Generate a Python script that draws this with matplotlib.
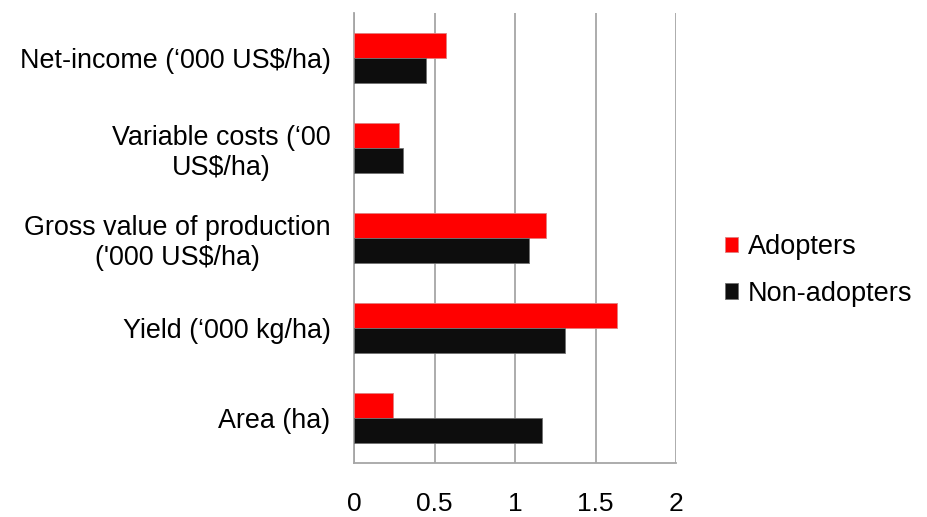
import matplotlib
matplotlib.use("Agg")
import matplotlib.pyplot as plt
import numpy as np

categories = ["Net-income (\u2018000 US$/ha)",
              "Variable costs (\u201800\nUS$/ha)",
              "Gross value of production\n('000 US$/ha)",
              "Yield (\u2018000 kg/ha)",
              "Area (ha)"]
adopters = [0.57, 0.28, 1.19, 1.635, 0.24]
non_adopters = [0.45, 0.305, 1.085, 1.31, 1.165]
series_names = ["Adopters", "Non-adopters"]
xticks = [0, 0.5, 1, 1.5, 2]
xticklabels = ["0", "0.5", "1", "1.5", "2"]

plt.rcParams['font.family'] = ['Liberation Sans', 'DejaVu Sans']

fig = plt.figure(figsize=(9.28, 5.17), dpi=100)
ax = fig.add_axes([0.3815, 0.1044, 0.3470, 0.8705])

n = len(categories)
pos = np.arange(n)[::-1]  # top to bottom
h = 0.283
ax.barh(pos + h / 2, adopters, height=h, color="#FF0000", edgecolor="#E08080",
        linewidth=0.6, label=series_names[0], zorder=3)
ax.barh(pos - h / 2, non_adopters, height=h, color="#0D0D0D", edgecolor="#707070",
        linewidth=0.6, label=series_names[1], zorder=3)

ax.set_xlim(0, 2)
ax.set_ylim(-0.5, n - 0.5)
ax.set_xticks(xticks)
ax.set_xticklabels(xticklabels, fontsize=19)
ax.set_yticks(pos)
ax.set_yticklabels(categories, fontsize=19.4, multialignment='center')
ax.tick_params(axis='x', length=0, pad=21)
ax.tick_params(axis='y', length=0, pad=17)

ax.grid(axis='x', color="#A6A6A6", linewidth=1.3, zorder=0)
for s in ['top', 'right']:
    ax.spines[s].set_visible(False)
for s in ['left', 'bottom']:
    ax.spines[s].set_color("#A6A6A6")
    ax.spines[s].set_linewidth(1.3)

leg = ax.legend(loc='center left', bbox_to_anchor=(0.781, 0.477),
                bbox_transform=fig.transFigure, frameon=False, fontsize=19.5,
                handlelength=0.5, handleheight=0.5, handletextpad=0.35,
                labelspacing=0.75, borderpad=0, borderaxespad=0)

fig.savefig("out.png", dpi=100, facecolor="white")
